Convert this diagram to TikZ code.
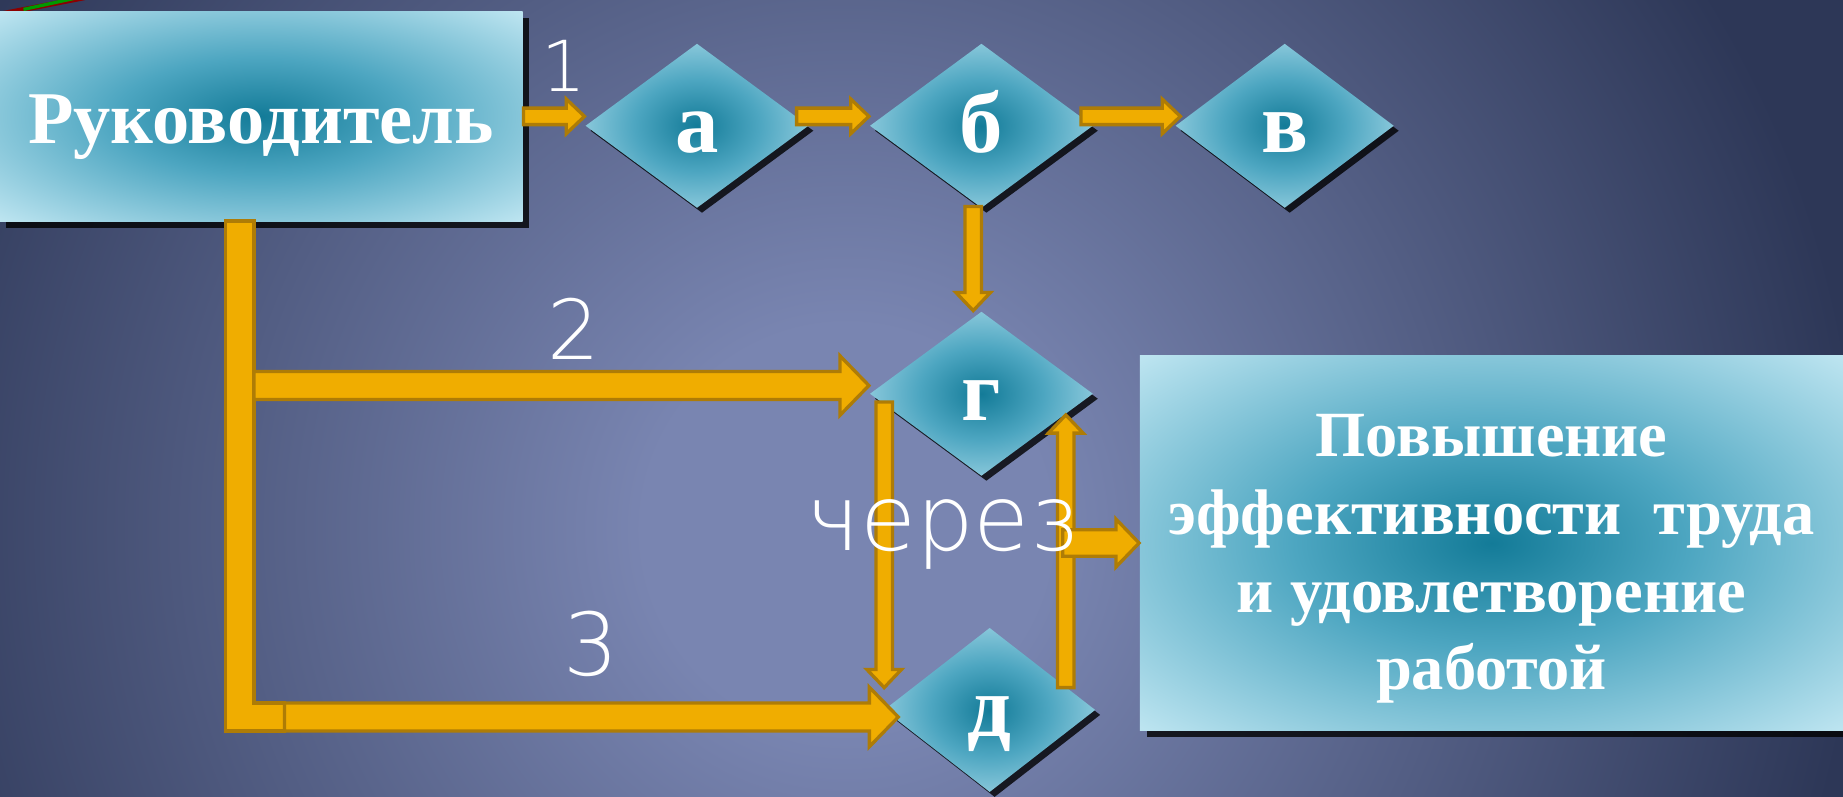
\documentclass[tikz,border=0pt]{standalone}
\usepackage{fontspec}
\setmainfont{Liberation Serif}
\newfontfamily\handfont{DejaVuSans-ExtraLight.ttf}
\usetikzlibrary{shapes.geometric,shadows,calc}

\definecolor{bgmid}{HTML}{7985B1}
\definecolor{bgdark}{HTML}{2D3757}
\definecolor{tealdark}{HTML}{137B98}
\definecolor{tealmid}{HTML}{4DA6C1}
\definecolor{teallight}{HTML}{BCE4F0}
\definecolor{arrowfill}{HTML}{F0AD00}
\definecolor{arrowline}{HTML}{AE7C06}

\pgfdeclareradialshading{bgglow}{\pgfpoint{0bp}{0bp}}{color(0bp)=(bgmid); color(3bp)=(bgmid); color(15bp)=(bgdark); color(50bp)=(bgdark)}
\pgfdeclareradialshading{tealglow}{\pgfpoint{0bp}{0bp}}{color(0bp)=(tealdark); color(14bp)=(tealmid); color(35bp)=(teallight); color(50bp)=(teallight)}

\tikzset{
  card/.style={rectangle, shade, shading=tealglow, text=white, align=center, inner sep=0pt,
    drop shadow={shadow xshift=1.6pt, shadow yshift=-1.6pt, opacity=0.8, fill=black}},
  stage/.style={diamond, shade, shading=tealglow, text=white, inner sep=0pt,
    font=\fontsize{21}{24}\selectfont\bfseries, text height=13pt, text depth=0pt,
    minimum width=1.9cm, minimum height=1.4cm,
    drop shadow={shadow xshift=1.2pt, shadow yshift=-1.2pt, opacity=0.8, fill=black}},
  hand/.style={text=white, inner sep=0pt},
  barfill/.style={draw=arrowline, fill=arrowfill, line width=0.8pt},
  block/.style={barfill, line join=miter,
    to path={let \p1=(\tikztostart), \p2=(\tikztotarget),
        \n1={atan2(\y2-\y1,\x2-\x1)}, \n2={veclen(\x2-\x1,\y2-\y1)} in
      {[shift={(\p1)}, rotate=\n1]
        (0pt,\shaft) -- (\n2-\headl,\shaft) -- (\n2-\headl,\headw) -- (\n2,0pt)
        -- (\n2-\headl,-\headw) -- (\n2-\headl,-\shaft) -- (0pt,-\shaft) -- cycle}}},
  thinarrow/.style={block, /utils/exec={\def\shaft{2pt}\def\headw{4.2pt}\def\headl{4.4pt}}},
  midarrow/.style={block, /utils/exec={\def\shaft{3.2pt}\def\headw{5.8pt}\def\headl{5.6pt}}},
  fatarrow/.style={block, /utils/exec={\def\shaft{3.4pt}\def\headw{7.2pt}\def\headl{7pt}}},
}

\begin{document}
\begin{tikzpicture}[x=0.01cm, y=-0.01cm]
    % Background
    \begin{scope}
      \clip (0,0) rectangle (1568,678);
      \shade[shading=bgglow] (-720,-990) rectangle (2160,1890);
      \draw[red!55!black, line width=1.2pt] (0,12) -- (72,-2);
      \draw[green!60!black, line width=0.8pt] (20,8) -- (66,-2);
    \end{scope}
    \useasboundingbox (0,0) rectangle (1568,678);

    % Boxes and stages
    \node[card, minimum width=4.45cm, minimum height=1.78cm,
          font=\fontsize{18}{22}\selectfont\bfseries] (boss) at (222,99)
          {\rule{0pt}{17pt}Руководитель};
    \node[stage] (stageA) at (593,107) {а};
    \node[stage] (stageB) at (835,107) {б};
    \node[stage, minimum width=1.86cm] (stageV) at (1093,107) {в};
    \node[stage] (stageG) at (835,335) {г};
    \node[stage, minimum width=1.8cm] (stageD) at (842,604) {д};
    \node[card, minimum width=5.98cm, minimum height=3.19cm,
          font=\fontsize{15.6}{18.8}\selectfont\bfseries] (result) at (1269,462)
          {\rule{0pt}{18pt}Повышение\\эффективности~ труда\\и удовлетворение\\работой};

    % Top row
    \draw[thinarrow] (boss.east) to (boss.east -| stageA.west);
    \draw[thinarrow] ($(stageA.east |- boss.east)+(-11,0)$) to (stageB.west |- boss.east);
    \draw[thinarrow] ($(stageB.east |- boss.east)+(-11,0)$) to ($(stageV.west |- boss.east)+(5,0)$);
    \draw[thinarrow] ($(stageB.south)+(-7,-2)$) to ($(stageG.north)+(-7,0)$);

    % Trunk from the head
    \coordinate (barright) at (216,188);
    \coordinate (barfoot) at (242,610);
    \draw[barfill] (192,188) -- (barright) -- (216,598) -- (242,598) -- (242,622) -- (192,622) -- cycle;
    \draw[fatarrow] (barright |- stageG.west) ++(0,-7) coordinate (g2) (g2) to ($(stageG.west)+(0,-7)$);
    \draw[fatarrow] (barfoot) to ($(stageD.west)+(13,6)$);

    % Between g and d
    \draw[thinarrow] ($(stageG.west)+(13,7)$) to ($(stageD.west)+(1,-19)$);
    \draw[thinarrow] ($(stageD.east)+(-26,-19)$) to ($(stageG.east)+(-24,18)$);
    \draw[midarrow] ($(result.west)+(-65,0)$) to (result.west);

    % Handwritten marks
    \node[hand, font=\handfont\fontsize{17}{18}\selectfont] (mark1) at (480,56) {1};
    \node[hand, font=\handfont\fontsize{20}{22}\selectfont] (mark2) at (488,280) {2};
    \node[hand, font=\handfont\fontsize{21}{22}\selectfont] (mark3) at (503,548) {3};
    \node[hand, font=\handfont\fontsize{22}{24}\selectfont] (via) at (802,455) {через};
\end{tikzpicture}
\end{document}
